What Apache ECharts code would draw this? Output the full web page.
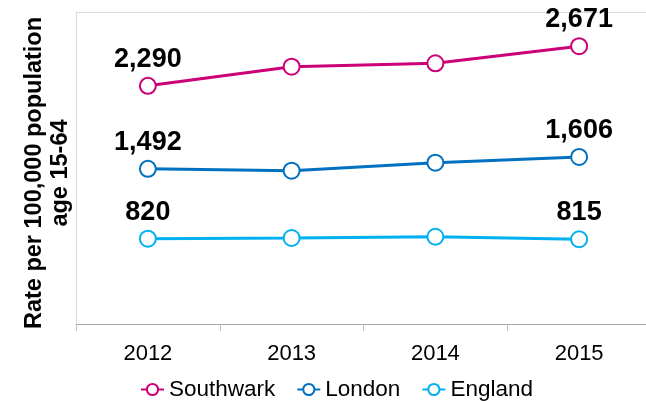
<!DOCTYPE html>
<html>
<head>
<meta charset="utf-8">
<script src="https://cdn.jsdelivr.net/npm/echarts@6/dist/echarts.min.js"></script>
<style>
html,body{margin:0;padding:0;background:#fff;}
#chart{width:646px;height:401px;}
</style>
</head>
<body>
<div id="chart"></div>
<script>
const categories = ['2012', '2013', '2014', '2015'];
const southwark = [2290, 2474, 2507, 2671];
const london = [1492, 1474, 1551, 1606];
const england = [820, 827, 839, 815];
const seriesNames = ['Southwark', 'London', 'England'];
const seriesColors = ['#CC0077', '#0070C0', '#00B0F0'];
const yTitle = 'Rate per 100,000 population\nage 15-64';
const labelledIdx = [0, 3];

const FONT = '"Liberation Sans", Arial, sans-serif';

function mkSeries(name, values, color) {
  return {
    name: name,
    type: 'line',
    data: values.map((v, i) => ({
      value: v,
      label: { show: labelledIdx.indexOf(i) >= 0 }
    })),
    symbol: 'emptyCircle',
    symbolSize: 16,
    lineStyle: { color: color, width: 3 },
    itemStyle: { color: color, borderColor: color, borderWidth: 2 },
    label: {
      position: 'top',
      distance: 4,
      color: '#000',
      fontFamily: FONT,
      fontWeight: 'bold',
      fontSize: 27,
      formatter: p => Number(p.value).toLocaleString('en-US')
    },
    animation: false
  };
}

const chart = echarts.init(document.getElementById('chart'));
chart.setOption({
  animation: false,
  backgroundColor: '#fff',
  grid: { left: 76, top: 12, width: 575, height: 312, outerBoundsMode: 'none', containLabel: false },
  xAxis: {
    type: 'category',
    data: categories,
    boundaryGap: true,
    axisLine: { show: true, lineStyle: { color: '#a6a6a6', width: 1 } },
    axisTick: { show: true, length: 7, lineStyle: { color: '#bfbfbf' } },
    axisLabel: { color: '#000', fontFamily: FONT, fontSize: 22, margin: 19 },
    splitLine: { show: false }
  },
  yAxis: {
    type: 'value',
    min: 0,
    max: 3000,
    interval: 3000,
    axisLine: { show: true, lineStyle: { color: '#d9d9d9' } },
    axisTick: { show: false },
    axisLabel: { show: false },
    splitLine: { show: true, lineStyle: { color: '#d9d9d9', width: 1 } }
  },
  legend: {
    data: seriesNames,
    left: 135,
    top: 373,
    itemWidth: 23,
    itemHeight: 14,
    itemGap: 21,
    textStyle: { color: '#000', fontFamily: FONT, fontSize: 22.5 }
  },
  graphic: [{
    type: 'text',
    x: 48,
    y: 173,
    rotation: Math.PI / 2,
    style: {
      text: yTitle,
      fill: '#000',
      font: 'bold 23.5px ' + FONT,
      align: 'center',
      verticalAlign: 'middle',
      lineHeight: 26
    }
  }],
  series: [
    mkSeries(seriesNames[0], southwark, seriesColors[0]),
    mkSeries(seriesNames[1], london, seriesColors[1]),
    mkSeries(seriesNames[2], england, seriesColors[2])
  ]
});
</script>
</body>
</html>
